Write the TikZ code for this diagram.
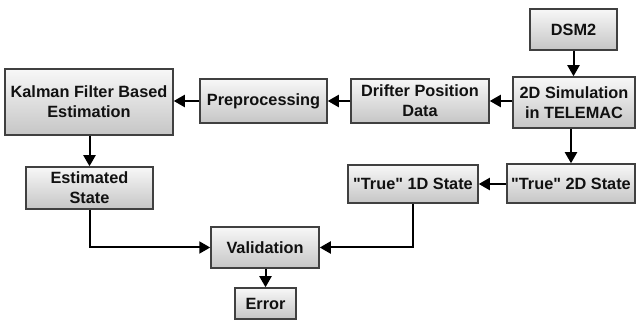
\documentclass[tikz,border=0pt]{standalone}
\usepackage{fontspec}
\setmainfont[Ligatures=TeXOff]{Liberation Sans}
\usetikzlibrary{arrows.meta,shadings}
\definecolor{boxline}{HTML}{404040}
\definecolor{txt}{HTML}{111111}
\tikzset{
  blk/.style={draw=boxline, line width=1.5pt, top color=gray!6, bottom color=gray!45,
    align=center, inner sep=0pt, text=txt, font=\fontsize{16.3}{20}\selectfont\bfseries},
  arr/.style={line width=2pt, -{Triangle[length=11pt,width=12pt]}}
}
\begin{document}
\begin{tikzpicture}[x=1pt,y=-1pt]
\useasboundingbox (0,0) rectangle (637,320);
\node[blk, minimum width=168pt, minimum height=66pt] (kal) at (89,102) {Kalman Filter Based\\Estimation};
\node[blk, minimum width=127pt, minimum height=44pt] (pre) at (263.5,101) {Preprocessing};
\node[blk, minimum width=138pt, minimum height=44pt] (dri) at (420,101) {Drifter Position\\Data};
\node[blk, minimum width=122pt, minimum height=51pt] (sim) at (574,102.5) {2D Simulation\\in TELEMAC};
\node[blk, minimum width=87pt, minimum height=41pt] (dsm) at (573.5,29.5) {DSM2};
\node[blk, minimum width=127pt, minimum height=42pt] (est) at (89.5,188) {Estimated\\State};
\node[blk, minimum width=108pt, minimum height=41pt] (val) at (265,247.5) {Validation};
\node[blk, minimum width=61pt, minimum height=31pt] (err) at (265.5,303.5) {Error};
\node[blk, minimum width=130pt, minimum height=38pt] (t1) at (413,184) {"True" 1D State};
\node[blk, minimum width=128pt, minimum height=39pt] (t2) at (571,183.5) {"True" 2D State};

\draw[arr] (dsm.south) -- (dsm.south |- sim.north);
\draw[arr] (sim.west |- dri.east) -- (dri.east);
\draw[arr] (dri.west) -- (pre.east);
\draw[arr] (pre.west) -- (pre.west -| kal.east);
\draw[arr] (kal.south -| est.north) -- (est.north);
\draw[arr] (sim.south -| t2.north) -- (t2.north);
\draw[arr] (t2.west |- t1.east) -- (t1.east);
\draw[arr] (est.south) |- (val.west);
\draw[arr] (t1.south) |- (val.east);
\draw[arr] (val.south -| err.north) -- (err.north);
\end{tikzpicture}
\end{document}
